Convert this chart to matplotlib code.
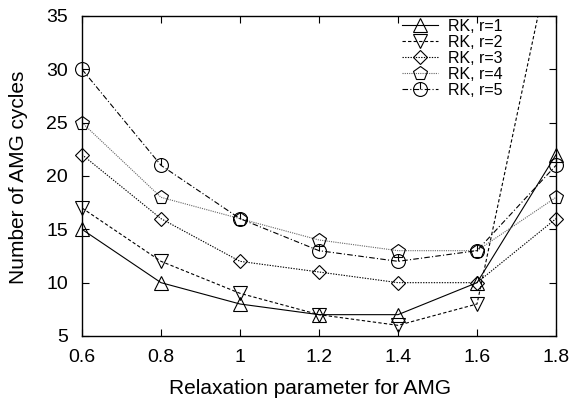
import numpy as np
import matplotlib
matplotlib.use("Agg")
import matplotlib.pyplot as plt
from matplotlib.path import Path
from matplotlib.lines import Line2D

plt.rcParams['font.family'] = ['Liberation Sans', 'DejaVu Sans']

omega = [0.6, 0.8, 1.0, 1.2, 1.4, 1.6, 1.8]
cycles_r1 = [15, 10, 8, 7, 7, 10, 22]
cycles_r2 = [17, 12, 9, 7, 6, 8, 43]
cycles_r3 = [22, 16, 12, 11, 10, 10, 16]
cycles_r4 = [25, 18, 16, 14, 13, 13, 18]
cycles_r5 = [30, 21, 16, 13, 12, 13, 21]
labels = ['RK, r=1', 'RK, r=2', 'RK, r=3', 'RK, r=4', 'RK, r=5']
xtick_labels = ['0.6', '0.8', '1', '1.2', '1.4', '1.6', '1.8']
YMIN, YMAX = 5, 35

# circle with a short vertical stroke from the centre up, gnuplot style
circ = Path.unit_circle()
stroke = Path([(0, 0), (0, 1)], [Path.MOVETO, Path.LINETO])
circle_tick = Path.make_compound_path(circ, stroke)

styles = [
    dict(ls='-', marker='^', ms=10, color='black'),
    dict(ls=(0, (3, 2)), marker='v', ms=10, color='black'),
    dict(ls=(0, (1.2, 1.2)), marker='D', ms=7, color='black'),
    dict(ls=(0, (1, 1)), marker='p', ms=10, color='#666666'),
    dict(ls=(0, (5, 2, 1, 2)), marker=circle_tick, ms=10, color='black'),
]

W, H = 575, 401
fig = plt.figure(figsize=(W / 100, H / 100), dpi=100)
L, R, T, B = 82, 556, 16, 336
ax = fig.add_axes([L / W, 1 - B / H, (R - L) / W, (B - T) / H])

series = [cycles_r1, cycles_r2, cycles_r3, cycles_r4, cycles_r5]
for ys, st in zip(series, styles):
    # lines are clipped to the frame, points on the border are drawn whole
    ax.plot(omega, ys, lw=0.8, ls=st['ls'], color=st['color'])
    yv = np.array(ys, dtype=float)
    yv[(yv > YMAX) | (yv < YMIN)] = np.nan
    ax.plot(omega, yv, ls='none', marker=st['marker'], ms=st['ms'],
            mfc='none', mec='black', mew=0.8, clip_on=False)

ax.set_xlim(0.6, 1.8)
ax.set_ylim(YMIN, YMAX)
ax.set_xticks(omega)
ax.set_xticklabels(xtick_labels)
ax.set_yticks(np.arange(5, 36, 5))
ax.tick_params(direction='in', top=True, right=True, labelsize=14, length=5,
               width=0.8)
ax.tick_params(axis='x', pad=9)
ax.tick_params(axis='y', pad=10)
for sp in ax.spines.values():
    sp.set_linewidth(1.0)


def px(x, y):
    # figure pixel (from top-left) -> axes fraction
    return ((x - L) / (R - L), (B - y) / (B - T))


ax.set_xlabel('Relaxation parameter for AMG', fontsize=15)
ax.xaxis.set_label_coords(*px(310, 389))
ax.xaxis.label.set_va('center')
ax.set_ylabel('Number of AMG cycles', fontsize=15)
ax.yaxis.set_label_coords(*px(19, 177))
ax.yaxis.label.set_va('center')

# hand-built key: sample line with marker, label to the right
for i, (lab, st) in enumerate(zip(labels, styles)):
    yc = 25 + 16 * i
    x0, yy = px(402, yc)
    x1, _ = px(438, yc)
    xm, _ = px(420, yc)
    ax.add_line(Line2D([x0, x1], [yy, yy], transform=ax.transAxes, lw=0.8,
                       ls=st['ls'], color=st['color']))
    ax.add_line(Line2D([xm], [yy], transform=ax.transAxes, ls='none',
                       marker=st['marker'], ms=st['ms'], mfc='none',
                       mec='black', mew=0.8))
    xt, _ = px(448, yc)
    ax.text(xt, yy, lab, transform=ax.transAxes, fontsize=11.5,
            va='center_baseline', ha='left')

fig.savefig('out.png', dpi=100)
